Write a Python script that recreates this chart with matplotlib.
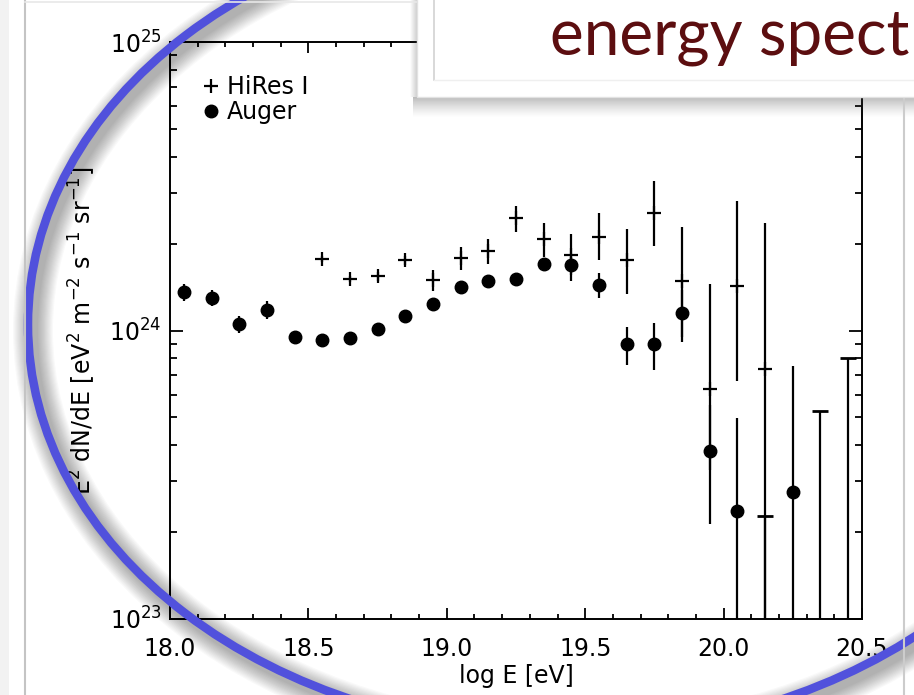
import numpy as np
import matplotlib
matplotlib.use("Agg")
import matplotlib.pyplot as plt
from matplotlib.ticker import MultipleLocator, FormatStrFormatter, LogLocator, NullFormatter
from matplotlib.patches import Ellipse, Rectangle
from matplotlib.lines import Line2D

plt.rcParams['font.family'] = ['DejaVu Sans']
plt.rcParams['mathtext.fontset'] = 'dejavusans'

# ---------------- data (flux values in units of 1e24 eV^2 m^-2 s^-1 sr^-1) -------------
auger_logE = [18.05, 18.15, 18.25, 18.35, 18.45, 18.55, 18.65, 18.75, 18.85, 18.95,
              19.05, 19.15, 19.25, 19.35, 19.45, 19.55, 19.65, 19.75, 19.85, 19.95,
              20.05, 20.25]
auger_flux = [1.36, 1.30, 1.05, 1.18, 0.95, 0.925, 0.94, 1.015, 1.125, 1.24,
              1.41, 1.48, 1.51, 1.70, 1.68, 1.44, 0.898, 0.898, 1.147, 0.383,
              0.236, 0.275]
auger_err_lo = [0.09, 0.085, 0.07, 0.085, 0.03, 0.03, 0.03, 0.03, 0.035, 0.04,
                0.045, 0.05, 0.055, 0.07, 0.125, 0.145, 0.139, 0.168, 0.232, 0.17,
                0.226, 0.265]
auger_err_hi = [0.09, 0.085, 0.07, 0.085, 0.03, 0.03, 0.03, 0.03, 0.035, 0.04,
                0.045, 0.05, 0.055, 0.07, 0.125, 0.145, 0.128, 0.16, 0.234, 0.17,
                0.26, 0.478]

hires_logE = [18.55, 18.65, 18.75, 18.85, 18.95, 19.05, 19.15, 19.25, 19.35, 19.45,
              19.55, 19.65, 19.75, 19.85, 19.95, 20.05, 20.15]
hires_flux = [1.77, 1.51, 1.54, 1.75, 1.50, 1.78, 1.89, 2.45, 2.07, 1.82,
              2.11, 1.75, 2.56, 1.48, 0.628, 1.43, 0.734]
hires_err_lo = [0.04, 0.04, 0.05, 0.06, 0.125, 0.16, 0.19, 0.26, 0.268, 0.34,
                0.36, 0.415, 0.59, 0.53, 0.30, 0.76, 0.724]
hires_err_hi = [0.04, 0.04, 0.05, 0.06, 0.125, 0.16, 0.19, 0.26, 0.283, 0.34,
                0.44, 0.49, 0.74, 0.80, 0.817, 1.38, 1.626]

# HiRes upper limits (bar drawn from the limit down to zero)
hires_ul_logE = [20.15, 20.35, 20.45]
hires_ul_flux = [0.228, 0.526, 0.806]
ul_floor = 0.01

UNIT = 1e24

# ---------------- figure ----------------
W, H = 914, 695
fig = plt.figure(figsize=(W / 100, H / 100), dpi=100)
fig.patch.set_facecolor('white')

ax = fig.add_axes([170 / W, 1 - 619 / H, 692 / W, 577 / H])
ax.set_yscale('log')
ax.set_xlim(18.0, 20.5)
ax.set_ylim(1e23, 1e25)

a_x = np.array(auger_logE)
a_y = np.array(auger_flux) * UNIT
ax.errorbar(a_x, a_y, yerr=[np.array(auger_err_lo) * UNIT, np.array(auger_err_hi) * UNIT],
            fmt='o', ms=9, color='black', ecolor='black', elinewidth=1.6, capsize=0, zorder=3)

h_x = np.array(hires_logE)
h_y = np.array(hires_flux) * UNIT
ax.errorbar(h_x, h_y, yerr=[np.array(hires_err_lo) * UNIT, np.array(hires_err_hi) * UNIT],
            fmt='+', ms=10, mew=1.6, color='black', ecolor='black', elinewidth=1.6,
            capsize=0, zorder=3)

u_x = np.array(hires_ul_logE)
u_y = np.array(hires_ul_flux) * UNIT
ax.errorbar(u_x, u_y, yerr=[u_y - ul_floor * UNIT, np.zeros_like(u_y)],
            fmt='_', ms=12, mew=2.0, color='black', ecolor='black', elinewidth=1.6,
            capsize=0, zorder=3)

# axes styling
for s in ax.spines.values():
    s.set_linewidth(1.4)
ax.xaxis.set_major_locator(MultipleLocator(0.5))
ax.xaxis.set_minor_locator(MultipleLocator(0.1))
ax.xaxis.set_major_formatter(FormatStrFormatter('%.1f'))
ax.yaxis.set_major_locator(LogLocator(base=10, numticks=10))
ax.yaxis.set_minor_locator(LogLocator(base=10, subs=np.arange(2, 10), numticks=20))
ax.yaxis.set_minor_formatter(NullFormatter())
ax.tick_params(which='both', direction='in', top=True, right=True, width=1.3, labelsize=17)
ax.tick_params(axis='x', which='major', length=8, pad=13)
ax.tick_params(axis='x', which='minor', length=3.5)
ax.tick_params(axis='y', which='major', length=9.5, pad=6)
ax.tick_params(axis='y', which='minor', length=5)

ax.set_xlabel('log E [eV]', fontsize=17)
ax.xaxis.set_label_coords(0.5, -0.078)
ax.xaxis.label.set_va('top')
ax.set_ylabel(r'E$^2$ dN/dE [eV$^2$ m$^{-2}$ s$^{-1}$ sr$^{-1}$]', fontsize=17)
ax.yaxis.set_label_coords(-0.104, 0.5)

handles = [Line2D([], [], marker='+', ls='none', color='black', ms=10, mew=1.6),
           Line2D([], [], marker='o', ls='none', color='black', ms=9)]
ax.legend(handles, ['HiRes I', 'Auger'], loc='upper left', frameon=False, fontsize=17,
          handlelength=0.8, handletextpad=0.28, labelspacing=0.05,
          borderaxespad=0.0, bbox_to_anchor=(0.032, 0.959))

# ---------------- slide decorations (overlay in pixel coordinates) ----------------
ov = fig.add_axes([0, 0, 1, 1], zorder=10)
ov.set_xlim(0, W)
ov.set_ylim(H, 0)
ov.axis('off')
ov.patch.set_alpha(0)

ov.add_patch(Rectangle((0, 0), 9, H, facecolor='#f2f2f2', edgecolor='none'))
ov.plot([25, 25], [1, H], color='#c4c4c4', lw=1.5)
ov.plot([25, 417], [1.5, 1.5], color='#e8e8e8', lw=1.2)
ov.plot([904, 904], [97, H], color='#cccccc', lw=1.5)

# ring shadow
cx, cy, ew, eh = 566.5, 324.5, 1077, 818
for lw_px in np.linspace(40, 10, 14):
    ov.add_patch(Ellipse((cx + 5, cy + 6), ew, eh, fill=False, edgecolor='black',
                         lw=lw_px * 0.72, alpha=0.022))
ov.add_patch(Ellipse((cx, cy), ew, eh, fill=False, edgecolor='#5151dc', lw=8.5 * 0.72))

# title box with shadow
grad = np.zeros((40, 2, 4))
grad[..., :3] = 0.25
grad[..., 3] = np.linspace(0.45, 0.0, 40)[:, None] ** 1.3
ov.imshow(grad, extent=[413, W, 118, 97], aspect='auto', interpolation='bilinear', zorder=1)
gradl = np.zeros((2, 20, 4))
gradl[..., :3] = 0.25
gradl[..., 3] = np.linspace(0.0, 0.25, 20)[None, :]
ov.imshow(gradl, extent=[410, 417, 97, 0], aspect='auto', interpolation='bilinear', zorder=1)
ov.add_patch(Rectangle((417, -5), 520, 102, facecolor='white', edgecolor='#e2e2e2',
                       lw=1, zorder=2))
ov.plot([434, 434], [0, 80], color='#d2d2d2', lw=1.2, zorder=3)
ov.plot([434, W], [80, 80], color='#efefef', lw=1.0, zorder=3)
ov.text(550, 54, 'energy spect', fontsize=46, color='#5c0e10', family='Lato',
        ha='left', va='baseline', zorder=4)
ov.set_xlim(0, W)
ov.set_ylim(H, 0)

fig.savefig('out.png', dpi=100)
